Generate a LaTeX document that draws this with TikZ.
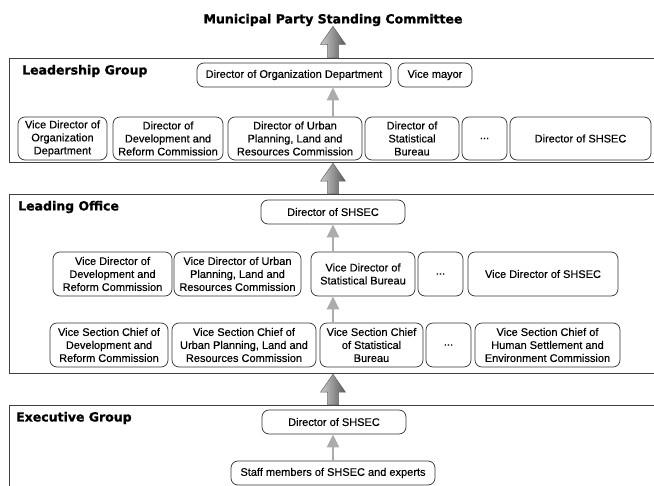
\documentclass[tikz,border=0pt]{standalone}
\usepackage{fontspec}
\setmainfont{Liberation Sans}
\newfontfamily\boxfont{Liberation Sans}[FakeBold=0.35]
\newfontfamily\headfont{DejaVu Sans}[BoldFeatures={FakeBold=1.2}]
\usetikzlibrary{arrows.meta,calc}

\tikzset{
  box/.style={draw=black!80, line width=0.7pt, rounded corners=7pt, align=center, inner sep=1pt, text=black, font=\boxfont\fontsize{11}{13}\selectfont},
  grp/.style={draw=black!75, line width=1.2pt, anchor=north west, minimum width=690, inner sep=0pt},
  grplabel/.style={anchor=west, inner sep=0pt, text=black, font=\headfont\bfseries\fontsize{12.5}{15}\selectfont},
  smallarrow/.style={draw=gray!65, line width=2.6pt, -{Triangle[length=13pt,width=12pt]}},
  bigarrow/.style={draw=black!60, line width=0.5pt, left color=gray!40, right color=black!65}
}

% big shaded arrow from #1 (bottom) up to #2 (tip)
\newcommand{\grouparrow}[2]{%
  \path[bigarrow] let \p1=(#1), \p2=(#2) in
    (\x1-5.5pt,\y1) -- (\x1-5.5pt,\y2-18pt) -- (\x1-12.5pt,\y2-18pt) -- (\x1,\y2)
    -- (\x1+12.5pt,\y2-18pt) -- (\x1+5.5pt,\y2-18pt) -- (\x1+5.5pt,\y1) -- cycle;}

\begin{document}
\begin{tikzpicture}[x=1pt, y=-1pt]
  \useasboundingbox (0,0) rectangle (654,486);
  \coordinate (axis) at (333,0);

  % groups
  \node[grp, minimum height=104] (leadgrp) at (9,58) {};
  \node[grp, minimum height=179] (leadoff) at (9,194) {};
  \node[grp, minimum height=110] (execgrp) at (9,405) {};

  \node[grplabel, anchor=center] (mpsc) at (333,20) {Municipal Party Standing Committee};
  \node[grplabel] (leadlab) at (22,71) {Leadership Group};
  \node[grplabel] (offlab) at (18,207) {Leading Office};
  \node[grplabel] (execlab) at (16,418) {Executive Group};

  % Leadership Group
  \node[box, minimum width=194, minimum height=24] (orgdir) at (294,75) {Director of Organization Department};
  \node[box, minimum width=74, minimum height=24] (vicemayor) at (435,75) {Vice mayor};
  \node[box, minimum width=89, minimum height=43] (b1) at (62.5,138.5) {Vice Director of\\Organization\\Department};
  \node[box, minimum width=110, minimum height=43] (b2) at (168,138.5) {Director of\\Development and\\Reform Commission};
  \node[box, minimum width=134, minimum height=43] (b3) at (295,138.5) {Director of Urban\\Planning, Land and\\Resources Commission};
  \node[box, minimum width=94, minimum height=43] (b4) at (412,138.5) {Director of\\Statistical\\Bureau};
  \node[box, minimum width=45, minimum height=43] (b5) at (484.5,138.5) {...};
  \node[box, minimum width=141, minimum height=43] (b6) at (580.5,138.5) {Director of SHSEC};

  % Leading Office
  \node[box, minimum width=144, minimum height=24] (ldir) at (333,212) {Director of SHSEC};
  \node[box, minimum width=119, minimum height=44] (c1) at (112.5,274) {Vice Director of\\Development and\\Reform Commission};
  \node[box, minimum width=127, minimum height=44] (c2) at (237.5,274) {Vice Director of Urban\\Planning, Land and\\Resources Commission};
  \node[box, minimum width=104, minimum height=44] (c3) at (363,274) {Vice Director of\\Statistical Bureau};
  \node[box, minimum width=45, minimum height=44] (c4) at (440.5,274) {...};
  \node[box, minimum width=150, minimum height=44] (c5) at (543,274) {Vice Director of SHSEC};
  \node[box, minimum width=118, minimum height=44] (d1) at (109,345) {Vice Section Chief of\\Development and\\Reform Commission};
  \node[box, minimum width=144, minimum height=44] (d2) at (244,345) {Vice Section Chief of\\Urban Planning, Land and\\Resources Commission};
  \node[box, minimum width=103, minimum height=44] (d3) at (371.5,345) {Vice Section Chief\\of Statistical\\Bureau};
  \node[box, minimum width=45, minimum height=44] (d4) at (448.5,345) {...};
  \node[box, minimum width=145, minimum height=44] (d5) at (547.5,345) {Vice Section Chief of\\Human Settlement and\\Environment Commission};

  % Executive Group
  \node[box, minimum width=144, minimum height=24] (edir) at (334,422) {Director of SHSEC};
  \node[box, minimum width=204, minimum height=24] (staff) at (333,473) {Staff members of SHSEC and experts};

  % arrows
  \grouparrow{leadgrp.north -| axis}{mpsc.south -| axis}
  \grouparrow{leadoff.north -| axis}{leadgrp.south -| axis}
  \grouparrow{execgrp.north -| axis}{leadoff.south -| axis}
  \draw[smallarrow] (b3.north -| axis) -- (orgdir.south -| axis);
  \draw[smallarrow] (c3.north -| axis) -- (ldir.south);
  \draw[smallarrow] (d3.north -| axis) -- (c3.south -| axis);
  \draw[smallarrow] (staff.north) -- (edir.south -| axis);
\end{tikzpicture}
\end{document}
